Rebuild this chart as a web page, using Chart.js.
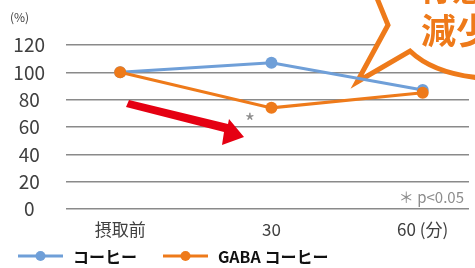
<!DOCTYPE html>
<html>
<head>
<meta charset="utf-8">
<script src="https://cdn.jsdelivr.net/npm/chart.js@4"></script>
<style>
  html, body { margin: 0; padding: 0; background: #fff; }
  #wrap { width: 475px; height: 268px; }
</style>
</head>
<body>
<div id="wrap"><canvas id="chart"></canvas></div>
<script>
//////////////////////////////////////////////////
// Data

const categories = ['摂取前', '30', '60 (分)']
const coffee = [100, 107, 87]
const gabaCoffee = [100, 74, 85]
const yTicks = [0, 20, 40, 60, 80, 100, 120]
const seriesNames = ['コーヒー', 'GABA コーヒー']

const BLUE = '#6f9fd8'
const ORANGE = '#ee7a1a'
const FONT = "'Noto Sans CJK JP', 'Noto Sans', sans-serif"

//////////////////////////////////////////////////
// Annotations: bubble, arrow, significance marks, legend

const annotations = {
  id: 'annotations',
  beforeDatasetsDraw (chart) {
    const ctx = chart.ctx
    // speech bubble (cut off at the top right)
    ctx.save()
    ctx.beginPath()
    ctx.moveTo(372, -14)
    ctx.lineTo(388, 25)
    ctx.lineTo(357, 82)
    ctx.lineTo(410, 51)
    ctx.quadraticCurveTo(438, 78, 500, 79)
    ctx.lineTo(500, -20)
    ctx.closePath()
    ctx.fillStyle = '#fff'
    ctx.fill()
    ctx.lineWidth = 5
    ctx.lineJoin = 'miter'
    ctx.strokeStyle = ORANGE
    ctx.stroke()
    ctx.fillStyle = ORANGE
    ctx.font = `bold 35px ${FONT}`
    ctx.textBaseline = 'alphabetic'
    ctx.textAlign = 'left'
    ctx.fillText('減少', 421, 44)
    ctx.fillText('有意', 417, 1)
    ctx.restore()
  },
  afterDraw (chart) {
    const ctx = chart.ctx
    ctx.save()
    // red arrow
    ctx.fillStyle = '#e50012'
    ctx.beginPath()
    ctx.moveTo(126, 107)
    ctx.lineTo(129, 100)
    ctx.lineTo(228, 124)
    ctx.lineTo(229, 119)
    ctx.lineTo(244, 137)
    ctx.lineTo(222, 145)
    ctx.lineTo(224, 132)
    ctx.closePath()
    ctx.fill()

    // significance marks
    ctx.fillStyle = '#8c8c8c'
    ctx.font = `22px ${FONT}`
    ctx.textAlign = 'center'
    ctx.textBaseline = 'middle'
    ctx.fillText('*', 250, 122)
    ctx.font = `15px ${FONT}`
    ctx.textAlign = 'right'
    ctx.fillText('＊ p<0.05', 464, 197)

    // unit
    ctx.fillStyle = '#404040'
    ctx.font = `12px ${FONT}`
    ctx.textAlign = 'left'
    ctx.fillText('(%)', 10, 17)

    // legend
    const items = [
      { x: 18, color: BLUE, text: chart.data.datasets[1].label },
      { x: 163, color: ORANGE, text: chart.data.datasets[0].label }
    ]
    const ly = 256
    for (const it of items) {
      ctx.strokeStyle = it.color
      ctx.lineWidth = 3
      ctx.beginPath()
      ctx.moveTo(it.x, ly)
      ctx.lineTo(it.x + 45, ly)
      ctx.stroke()
      ctx.fillStyle = it.color
      ctx.beginPath()
      ctx.arc(it.x + 22.5, ly, 5, 0, Math.PI * 2)
      ctx.fill()
      ctx.fillStyle = '#111'
      ctx.font = `bold 16px ${FONT}`
      ctx.textAlign = 'left'
      ctx.fillText(it.text, it.x + 55, ly + 1)
    }
    ctx.restore()
  }
}

//////////////////////////////////////////////////
// Chart

const toPoints = (arr) => arr.map((v, i) => ({ x: i, y: v }))

new Chart(document.getElementById('chart'), {
  type: 'line',
  plugins: [annotations],
  data: {
    datasets: [
      {
        label: seriesNames[1],
        data: toPoints(gabaCoffee),
        borderColor: ORANGE,
        backgroundColor: ORANGE,
        borderWidth: 3,
        pointRadius: 6,
        pointBorderWidth: 0,
        order: 0
      },
      {
        label: seriesNames[0],
        data: toPoints(coffee),
        borderColor: BLUE,
        backgroundColor: BLUE,
        borderWidth: 3,
        pointRadius: 6,
        pointBorderWidth: 0,
        order: 1
      }
    ]
  },
  options: {
    responsive: true,
    maintainAspectRatio: false,
    animation: false,
    layout: { padding: { top: 45, right: 0, left: 0, bottom: 0 } },
    plugins: {
      legend: { display: false },
      tooltip: { enabled: false }
    },
    scales: {
      x: {
        type: 'linear',
        min: -0.358,
        max: 2.306,
        afterBuildTicks: (scale) => {
          scale.ticks = categories.map((c, i) => ({ value: i }))
        },
        afterFit: (scale) => { scale.height = 59 },
        border: { display: false },
        grid: { display: false, drawTicks: false },
        ticks: {
          padding: 10,
          color: '#404040',
          font: { family: FONT, size: 17 },
          callback: (v) => categories[v]
        }
      },
      y: {
        min: 0,
        max: 120,
        afterBuildTicks: (scale) => {
          scale.ticks = yTicks.map((v) => ({ value: v }))
        },
        afterFit: (scale) => { scale.width = 66 },
        border: { display: false },
        grid: { color: '#8a8a8a', lineWidth: 1.5, drawTicks: false },
        ticks: {
          padding: 21,
          crossAlign: 'center',
          color: '#404040',
          font: { family: FONT, size: 19 }
        }
      }
    }
  }
})
</script>
</body>
</html>
